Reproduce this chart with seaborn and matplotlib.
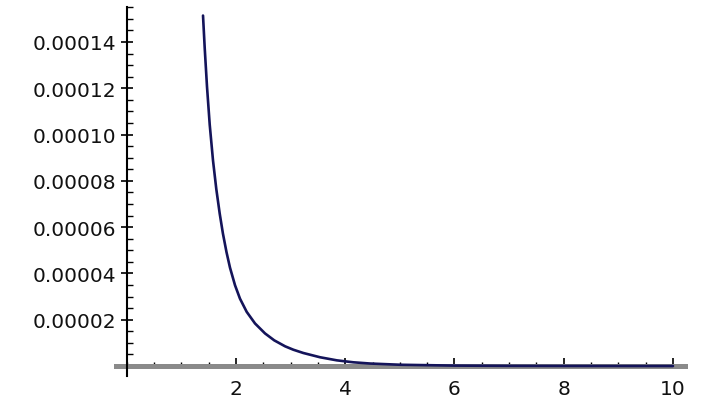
import matplotlib
matplotlib.use("Agg")
import matplotlib.pyplot as plt
from matplotlib.ticker import MultipleLocator
import seaborn as sns
import pandas as pd

# Values
x_vals = [1.396, 1.427, 1.469, 1.519, 1.579, 1.639, 1.702, 1.760, 1.826, 1.890,
          1.982, 2.073, 2.196, 2.348, 2.531, 2.70, 2.90, 3.05, 3.232, 3.538,
          3.844, 4.147, 4.453, 5.0, 6.0, 7.0, 8.0, 9.0, 10.0]
y_vals = [1.514e-4, 1.374e-4, 1.207e-4, 1.042e-4, 8.88e-5, 7.65e-5, 6.58e-5, 5.73e-5,
          4.92e-5, 4.25e-5, 3.49e-5, 2.91e-5, 2.34e-5, 1.84e-5, 1.41e-5, 1.11e-5,
          8.51e-6, 7.05e-6, 5.64e-6, 3.80e-6, 2.47e-6, 1.62e-6, 1.09e-6, 5.6e-7,
          1.9e-7, 8e-8, 4e-8, 2e-8, 1e-8]
x_ticks = [2, 4, 6, 8, 10]
y_ticks = [0.00002, 0.00004, 0.00006, 0.00008, 0.00010, 0.00012, 0.00014]
y_tick_labels = ["0.00002", "0.00004", "0.00006", "0.00008", "0.00010", "0.00012", "0.00014"]

sns.set_style("white")
plt.rcParams['font.family'] = ['DejaVu Sans']

W, H = 721, 414
fig = plt.figure(figsize=(W / 100, H / 100), dpi=100)
left_px, right_px, top_px, bottom_px = 116, 685, 8, 377
ax = fig.add_axes([left_px / W, 1 - bottom_px / H,
                   (right_px - left_px) / W, (bottom_px - top_px) / H])

df = pd.DataFrame({"x": x_vals, "y": y_vals})
sns.lineplot(data=df, x="x", y="y", ax=ax, color="#14145a", linewidth=1.9, zorder=5)

ax.set_xlim(-0.197, 10.22)
ax.set_ylim(-4.3e-6, 1.551e-4)

ax.spines['top'].set_visible(False)
ax.spines['right'].set_visible(False)
ax.spines['left'].set_position(('data', 0))
ax.spines['bottom'].set_position(('data', 0))
ax.spines['left'].set_color('black')
ax.spines['left'].set_linewidth(1.5)
ax.spines['bottom'].set_color('#8a8a8a')
ax.spines['bottom'].set_linewidth(3.6)
ax.spines['bottom'].set_zorder(1)

ax.set_xticks(x_ticks)
ax.set_xticklabels([str(t) for t in x_ticks])
ax.xaxis.set_minor_locator(MultipleLocator(0.5))
ax.set_yticks(y_ticks)
ax.set_yticklabels(y_tick_labels)
ax.yaxis.set_minor_locator(MultipleLocator(0.000005))

ax.tick_params(which='both', bottom=True, left=True, top=False, right=False)
ax.tick_params(axis='x', which='major', direction='in', length=6, width=1.2,
               color='black', pad=9.5, labelsize=14.5, labelcolor='#111111')
ax.tick_params(axis='x', which='minor', direction='in', length=3, width=1.0, color='black')
ax.tick_params(axis='y', which='major', direction='inout', length=9, width=1.2,
               color='black', pad=3, labelsize=14.5, labelcolor='#111111')
ax.tick_params(axis='y', which='minor', direction='in', length=4, width=1.0, color='black')

ax.set_xlabel("")
ax.set_ylabel("")
ax.grid(False)
ax.patch.set_alpha(0)

fig.savefig("out.png", dpi=100)
